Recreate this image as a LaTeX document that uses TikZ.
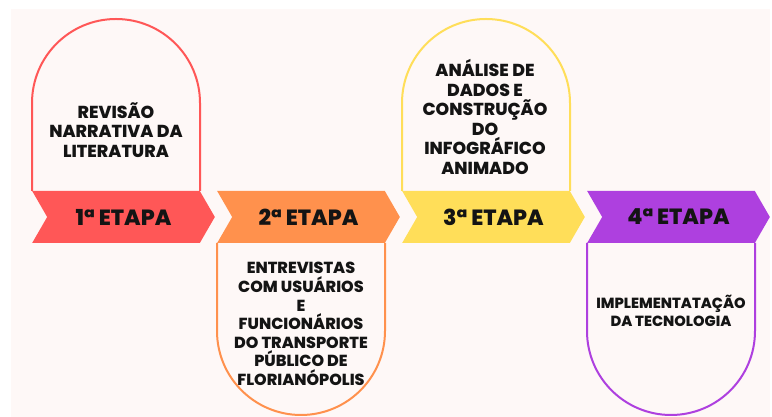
\documentclass[tikz,border=0pt]{standalone}
\usepackage{fontspec}
\setmainfont{Poppins}[BoldFont={Poppins ExtraBold}]
\usepackage{tikz}
\usetikzlibrary{shapes.symbols,positioning}

\definecolor{fundo}{HTML}{FEF8F7}
\definecolor{cor1}{HTML}{FF5757}
\definecolor{cor2}{HTML}{FF914D}
\definecolor{cor3}{HTML}{FFDE59}
\definecolor{cor4}{HTML}{AE40DF}
\definecolor{tinta}{HTML}{141414}

\begin{document}
\begin{tikzpicture}[
		x=0.75pt, y=0.75pt,
		font=\bfseries,
		etapa/.style={
			signal,
			signal from=west,
			signal to=east,
			signal pointer angle=120,
			minimum width=137pt,
			minimum height=39pt,
			inner sep=0pt,
			outer sep=0pt,
			text=tinta,
			font=\bfseries\fontsize{16.5}{18}\selectfont
		},
		arco/.style={
			line width=1.5pt,
			fill=fundo
		},
		texto/.style={
			align=center,
			text=tinta,
			inner sep=0pt,
			font=\bfseries\fontsize{13}{14.6}\selectfont
		}
		]
		\useasboundingbox (0,0) rectangle (772,417);
		\fill[fundo] (11,0) rectangle (770,408);
		
		% arches above and below the steps
		\draw[arco, draw=cor1] (32,226) -- (32,314) arc[start angle=180, end angle=0, radius=84] -- (200,226);
		\draw[arco, draw=cor3] (402,226) -- (402,314) arc[start angle=180, end angle=0, radius=84] -- (570,226);
		\draw[arco, draw=cor2] (217,174) -- (217,86) arc[start angle=180, end angle=360, radius=84] -- (385,174);
		\draw[arco, draw=cor4] (587,174) -- (587,86) arc[start angle=180, end angle=360, radius=84] -- (755,174);
		
		% the steps
		\node [etapa, fill=cor1] (etapa1) at (123.5,200) {1ª ETAPA};
		\node [etapa, fill=cor2] (etapa2) at (308.5,200) {2ª ETAPA};
		\node [etapa, fill=cor3] (etapa3) at (493.5,200) {3ª ETAPA};
		\node [etapa, fill=cor4] (etapa4) at (678.5,200) {4ª ETAPA};
		
		% texts
		\node [texto] (texto1) at (116,287) {REVISÃO\\NARRATIVA DA\\LITERATURA};
		\node [texto] (texto3) at (485,300) {ANÁLISE DE\\DADOS E\\CONSTRUÇÃO\\DO\\INFOGRÁFICO\\ANIMADO};
		\node [texto, font=\bfseries\fontsize{12}{14}\selectfont] (texto2) at (301,93)
		{ENTREVISTAS\\COM USUÁRIOS\\E\\FUNCIONÁRIOS\\DO TRANSPORTE\\PÚBLICO DE\\FLORIANÓPOLIS};
		\node [texto, font=\bfseries\fontsize{11}{13.5}\selectfont] (texto4) at (671,106)
		{IMPLEMENTATAÇÃO\\DA TECNOLOGIA};
		
\end{tikzpicture}
\end{document}
